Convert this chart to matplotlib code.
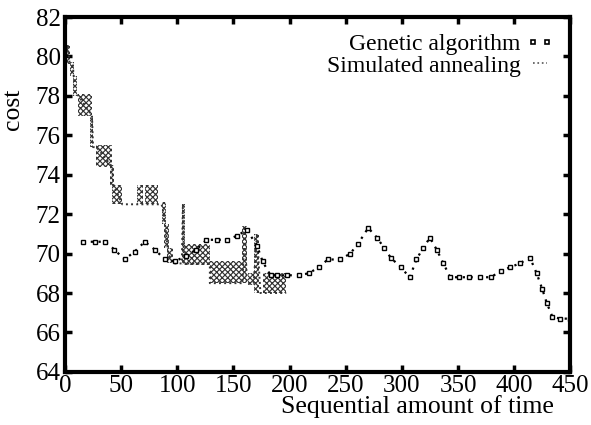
import matplotlib
matplotlib.use("Agg")
import matplotlib.pyplot as plt
from matplotlib.lines import Line2D

plt.rcParams['font.family'] = ['Liberation Serif', 'DejaVu Serif']
plt.rcParams['hatch.linewidth'] = 0.85

# Genetic algorithm series
ga_x = [16, 27, 36, 44, 53, 62, 71, 80, 89, 98, 108, 117, 126, 135, 144, 153, 162,
        171, 176, 183, 189, 198, 208, 217, 226, 234, 245, 254, 261, 270, 278, 284,
        290, 299, 307, 313, 319, 325, 331, 337, 343, 351, 360, 370, 379, 388, 396,
        405, 414, 420, 425, 429, 434, 441, 450]
ga_y = [70.6, 70.6, 70.6, 70.2, 69.7, 70.1, 70.6, 70.2, 69.7, 69.6, 69.9, 70.2,
        70.7, 70.7, 70.7, 70.9, 71.2, 70.4, 69.6, 68.9, 68.9, 68.9, 68.9, 69.0,
        69.3, 69.7, 69.7, 70.0, 70.5, 71.3, 70.8, 70.3, 69.8, 69.3, 68.8, 69.7,
        70.3, 70.8, 70.2, 69.5, 68.8, 68.8, 68.8, 68.8, 68.8, 69.1, 69.3, 69.5,
        69.8, 69.0, 68.2, 67.5, 66.8, 66.7, 66.7]

# Simulated annealing: oscillation bands (start, end, low, high)
sa_x0 = [0, 4, 7, 12, 22, 28, 40, 42, 64, 71, 86, 88, 91, 104, 104, 129, 158, 163, 168, 176]
sa_x1 = [4, 8, 11, 24, 25, 42, 44, 51, 69.5, 83, 90, 93, 96, 107, 129, 158, 162, 168, 173, 197]
sa_lo = [79.6, 79.0, 78.0, 77.0, 75.4, 74.4, 73.4, 72.5, 72.5, 72.5, 71.5, 70.3, 69.5,
         70.5, 69.4, 68.5, 68.5, 68.4, 68.0, 68.0]
sa_hi = [80.6, 79.7, 79.0, 78.1, 77.0, 75.5, 74.5, 73.5, 73.5, 73.5, 72.6, 71.5, 70.3,
         72.5, 70.5, 69.6, 71.4, 69.0, 71.0, 69.0]

# Simulated annealing: connecting trajectory
sa_px = [0, 2, 4, 7, 9, 12, 24, 25, 28, 42, 43, 51, 86, 88, 92, 96, 104, 105,
         106, 129, 129, 158, 160, 162, 168, 171, 174, 197]
sa_py = [79.6, 80.6, 79.7, 79.5, 78.2, 78.0, 77.0, 75.4, 75.4, 74.4, 73.5, 72.5,
         72.5, 72.0, 70.0, 69.5, 69.5, 72.5, 69.5, 69.5, 68.5, 68.5, 71.4, 68.5,
         68.5, 71.0, 68.0, 68.0]

x_ticks = [0, 50, 100, 150, 200, 250, 300, 350, 400, 450]
y_ticks = [64, 66, 68, 70, 72, 74, 76, 78, 80, 82]

fig = plt.figure(figsize=(5.91, 4.25), dpi=100)
ax = fig.add_axes([0.110, 0.125, 0.855, 0.835])

for x0, x1, lo, hi in zip(sa_x0, sa_x1, sa_lo, sa_hi):
    ax.fill_between([x0, x1], [lo, lo], [hi, hi], facecolor='none',
                    edgecolor='#333333', hatch='xxxxxx', linewidth=0)
ax.plot(sa_px, sa_py, color='#333333', ls=':', lw=1.4)

ax.plot(ga_x, ga_y, color='black', ls=(0, (1, 2.5)), lw=1.6, marker='s', ms=3,
        mfc='white', mec='black', mew=1.0)

ax.set_xlim(0, 450)
ax.set_ylim(64, 82)
ax.set_xticks(x_ticks)
ax.set_yticks(y_ticks)
ax.tick_params(direction='in', length=5, width=2.5, labelsize=18, top=True,
               right=True, pad=2)
ax.tick_params(axis='y', pad=3)
for s in ax.spines.values():
    s.set_linewidth(3)

ax.set_xlabel('Sequential amount of time', fontsize=18.5)
ax.xaxis.set_label_coords(0.697, -0.065)
ax.set_ylabel('cost', fontsize=18.5)
ax.yaxis.set_label_coords(-0.082, 0.74)

h_ga = Line2D([], [], color='black', ls='none', marker='s', ms=3,
              mfc='white', mec='black', mew=1.2)
h_sa = Line2D([], [], color='#555555', ls=':', lw=1.2)
ax.legend([h_ga, h_sa], ['Genetic algorithm', 'Simulated annealing'],
          loc='upper right', frameon=False, markerfirst=False, fontsize=17,
          handlelength=1.2, handletextpad=0.2, labelspacing=0.0, numpoints=2,
          borderaxespad=0.3)

fig.savefig('out.png', dpi=100)
